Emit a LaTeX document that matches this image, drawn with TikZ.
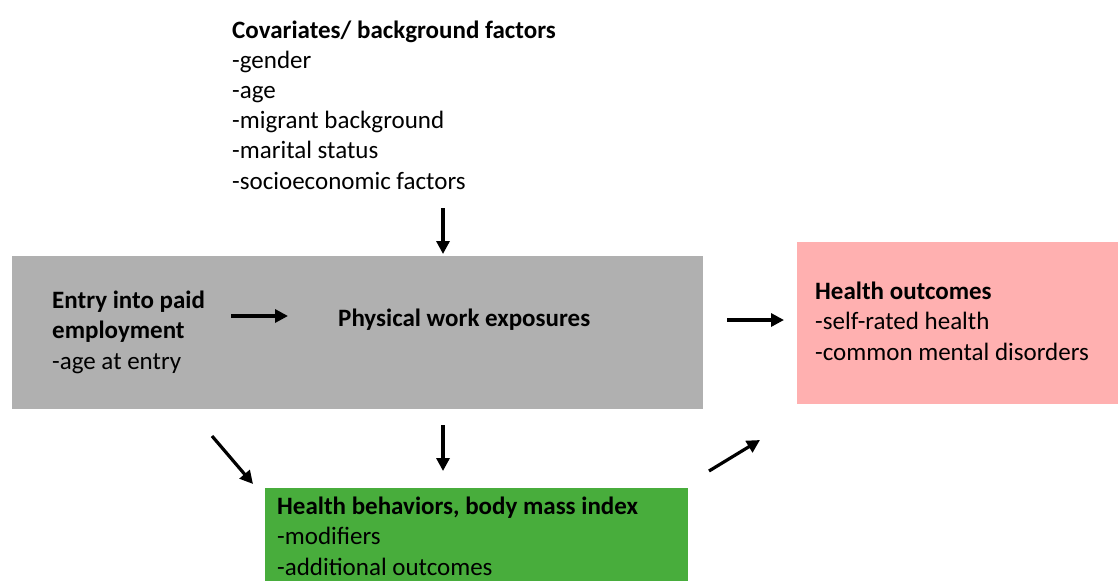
\documentclass[tikz,border=0pt]{standalone}
\usepackage{fontspec}
\setmainfont{Carlito}
\usetikzlibrary{arrows.meta}
\definecolor{boxgrey}{HTML}{B0B0B0}
\definecolor{boxpink}{HTML}{FFB0B0}
\definecolor{boxgreen}{HTML}{48AD3C}
\tikzset{
  panel/.style={anchor=north west, inner sep=0pt, outer sep=0pt},
  label/.style={anchor=base west, inner sep=0pt, align=left,
    font=\fontsize{25}{30.2}\selectfont},
  flow/.style={line width=3.2pt, -{Triangle[length=13pt,width=13pt]}},
}
\begin{document}
\begin{tikzpicture}[x=1pt,y=-1pt]
  \useasboundingbox (0,0) rectangle (1118,581);
  % boxes
  \node[panel, fill=boxgrey, minimum width=691pt, minimum height=153pt] (work) at (12,256) {};
  \node[panel, fill=boxpink, minimum width=321pt, minimum height=162pt] (outcome) at (797,242) {};
  \node[panel, fill=boxgreen, minimum width=423pt, minimum height=93pt] (behav) at (265,488) {};
  % texts (anchored at the baseline of the last line)
  \node[label] (cov) at (232,189) {\textbf{Covariates/ background factors}\\-gender\\-age\\-migrant background\\-marital status\\-socioeconomic factors};
  \node[label] (entry) at (52,369) {\textbf{Entry into paid}\\\textbf{employment}\\-age at entry};
  \node[label] (phys) at (338,326) {\textbf{Physical work exposures}};
  \node[label] (health) at (815,360) {\textbf{Health outcomes}\\-self-rated health\\-common mental disorders};
  \node[label] (hb) at (277,575) {\textbf{Health behaviors, body mass index}\\-modifiers\\-additional outcomes};
  % arrows
  \coordinate (a1) at (443,208); \coordinate (b1) at (443,254);
  \coordinate (a2) at (231,316); \coordinate (b2) at (288,316);
  \coordinate (a3) at (727,320); \coordinate (b3) at (784,320);
  \coordinate (a4) at (212,436); \coordinate (b4) at (253,484);
  \coordinate (a5) at (443,425); \coordinate (b5) at (443,471);
  \coordinate (a6) at (709,471); \coordinate (b6) at (760,440);
  \foreach \i in {1,...,6}
    \draw[flow] (a\i) -- (b\i);
\end{tikzpicture}
\end{document}
